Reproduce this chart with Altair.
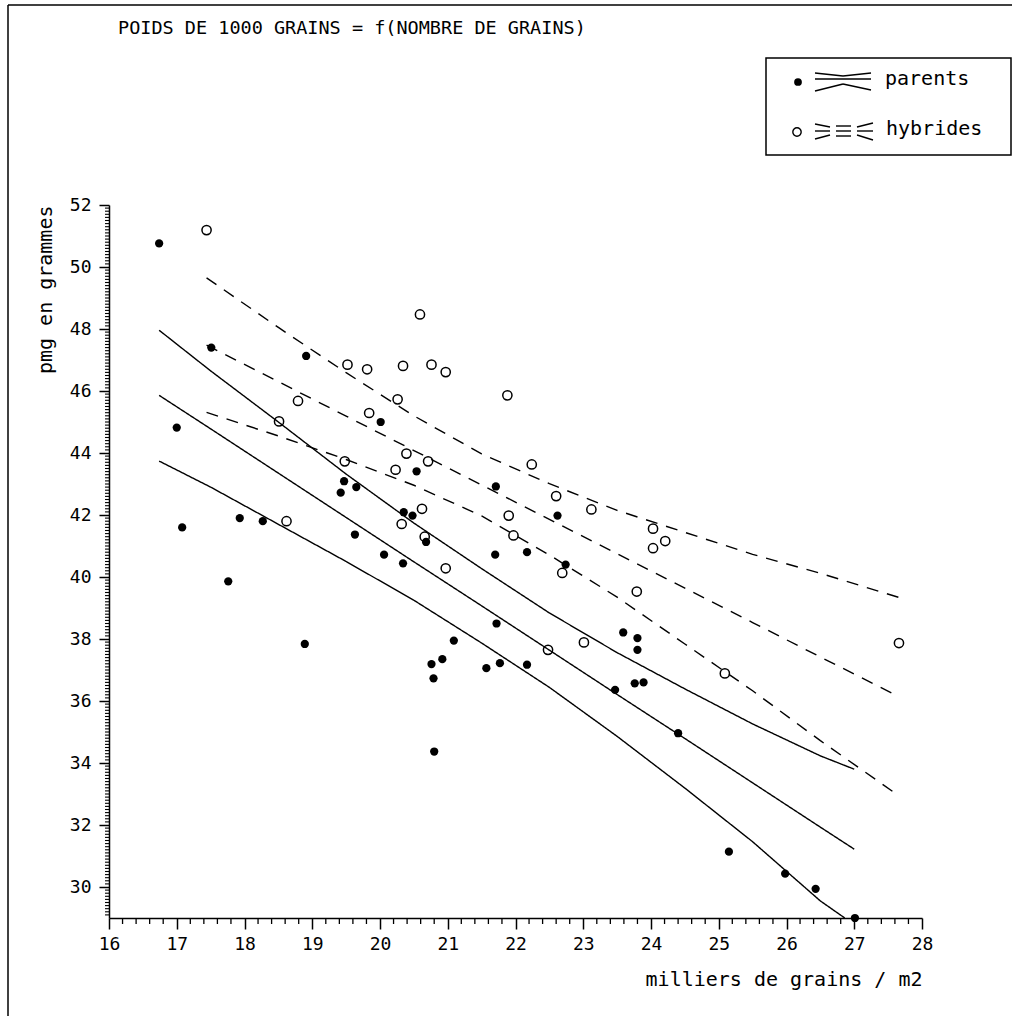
import altair as alt
import pandas as pd

# ---------------- texts ----------------
title_text = "POIDS DE 1000 GRAINS = f(NOMBRE DE GRAINS)"
x_title = "milliers de grains / m2"
y_title = "pmg en grammes"
legend_labels = ["parents", "hybrides"]

# ---------------- data ----------------
parents_x = [16.74, 17.00, 17.51, 18.91, 20.01, 20.54, 19.47, 19.65, 21.71, 19.42,
             20.35, 20.48, 22.62, 20.68, 19.63, 20.06, 20.34, 21.70, 22.17, 22.74,
             21.72, 23.59, 23.80, 23.80, 21.09, 18.89, 20.92, 20.76, 21.77, 21.57,
             22.17, 20.79, 17.76, 20.80, 23.47, 23.76, 23.89, 24.40, 25.15, 25.98,
             26.43, 27.01, 17.08, 17.93, 18.27]
parents_y = [50.76, 44.82, 47.40, 47.13, 45.00, 43.41, 43.09, 42.90, 42.92, 42.72,
             42.09, 41.98, 41.98, 41.13, 41.37, 40.72, 40.44, 40.72, 40.80, 40.40,
             38.50, 38.21, 38.03, 37.65, 37.95, 37.84, 37.35, 37.19, 37.22, 37.06,
             37.17, 36.73, 39.86, 34.37, 36.36, 36.57, 36.60, 34.96, 31.14, 30.43,
             29.94, 29.00, 41.60, 41.90, 41.80]

hybrid_x = [17.44, 20.59, 19.52, 19.81, 20.34, 20.76, 20.97, 18.79, 20.26, 19.84,
            18.51, 19.48, 20.39, 20.71, 20.23, 21.88, 22.24, 22.60, 23.12, 20.62,
            20.32, 21.90, 20.66, 21.97, 22.69, 20.97, 23.79, 23.01, 22.48, 24.03,
            24.21, 24.03, 27.66, 25.09, 18.62]
hybrid_y = [51.19, 48.47, 46.85, 46.70, 46.81, 46.85, 46.61, 45.68, 45.73, 45.29,
            45.02, 43.73, 43.98, 43.73, 43.46, 45.86, 43.63, 42.61, 42.18, 42.20,
            41.71, 41.98, 41.30, 41.34, 40.13, 40.28, 39.53, 37.89, 37.65, 41.56,
            41.16, 40.93, 37.87, 36.89, 41.80]

# regression line and confidence band, parents (solid)
par_x = [16.74, 17.5, 18.5, 19.5, 20.5, 21.5, 22.5, 23.5, 24.5, 25.5, 26.5, 27.0]
par_upper = [47.96, 46.65, 45.00, 43.32, 41.74, 40.27, 38.84, 37.56, 36.39, 35.26, 34.23, 33.80]
par_fit = [45.86, 44.78, 43.35, 41.92, 40.49, 39.07, 37.64, 36.21, 34.79, 33.36, 31.93, 31.22]
par_low_x = [16.74, 17.5, 18.5, 19.5, 20.5, 21.5, 22.5, 23.5, 24.5, 25.5, 26.5, 26.86]
par_lower = [43.74, 42.90, 41.70, 40.50, 39.25, 37.87, 36.44, 34.86, 33.19, 31.46, 29.55, 29.00]

# regression line and confidence band, hybrids (dashed)
hyb_x = [17.44, 18.5, 19.5, 20.5, 21.5, 22.5, 23.5, 24.5, 25.5, 26.5, 27.66]
hyb_upper = [49.65, 48.05, 46.59, 45.20, 43.97, 43.01, 42.15, 41.44, 40.73, 40.12, 39.34]
hyb_fit = [47.48, 46.30, 45.19, 44.08, 42.97, 41.86, 40.75, 39.64, 38.53, 37.42, 36.14]
hyb_lower = [45.31, 44.55, 43.79, 42.96, 41.97, 40.71, 39.35, 37.84, 36.33, 34.72, 32.94]

x_major = list(range(16, 29))
y_major = list(range(30, 53, 2))
x_minor = [round(16 + 0.2 * i, 1) for i in range(61) if i % 5 != 0]
y_minor = [round(29 + 0.1 * i, 1) for i in range(1, 231)
           if abs(round(29 + 0.1 * i, 1) / 2 - round(round(29 + 0.1 * i, 1) / 2)) > 1e-6]

# ---------------- tables ----------------
rows = []
for name, xs_, ys_, grp in [
    ("p_up", par_x, par_upper, "parents"),
    ("p_fit", par_x, par_fit, "parents"),
    ("p_low", par_low_x, par_lower, "parents"),
    ("h_up", hyb_x, hyb_upper, "hybrides"),
    ("h_fit", hyb_x, hyb_fit, "hybrides"),
    ("h_low", hyb_x, hyb_lower, "hybrides"),
]:
    for i, (a, b) in enumerate(zip(xs_, ys_)):
        rows.append({"x": a, "y": b, "series": name, "grp": grp, "o": i})
lines_df = pd.DataFrame(rows)
par_df = pd.DataFrame({"x": parents_x, "y": parents_y})
hyb_df = pd.DataFrame({"x": hybrid_x, "y": hybrid_y})

FONT = "DejaVu Sans Mono"

x_axis = alt.Axis(
    values=x_major, tickSize=11, format="d",
    labelFlush=False, labelOverlap=False,
    labelFont=FONT, labelFontSize=18, labelColor="black", labelPadding=6,
    domainColor="black", domainWidth=1.5, tickColor="black", tickWidth=1.5,
    grid=False, title=x_title, titleAnchor="end", titleFont=FONT,
    titleFontSize=20, titleFontWeight="normal", titleColor="black", titlePadding=16,
)
y_axis = alt.Axis(
    values=y_major, tickSize=10, format="d",
    labelOverlap=False,
    labelFont=FONT, labelFontSize=18, labelColor="black", labelPadding=8,
    domainColor="black", domainWidth=1.5, tickColor="black", tickWidth=1.5,
    grid=False, title=y_title, titleAnchor="end", titleFont=FONT,
    titleFontSize=20, titleFontWeight="normal", titleColor="black", titlePadding=14,
)

xs = alt.Scale(domain=[16, 28], nice=False, zero=False)
ys = alt.Scale(domain=[29, 52], nice=False, zero=False)

lines = alt.Chart(lines_df).mark_line(color="black", strokeWidth=1.4).encode(
    x=alt.X("x:Q", scale=xs, axis=x_axis),
    y=alt.Y("y:Q", scale=ys, axis=y_axis),
    detail="series:N",
    order="o:Q",
    strokeDash=alt.StrokeDash("grp:N", scale=alt.Scale(domain=["parents", "hybrides"],
                                                       range=[[1, 0], [12, 9]]), legend=None),
)
par_pts = alt.Chart(par_df).mark_circle(size=68, color="black", opacity=1).encode(
    x=alt.X("x:Q", scale=xs), y=alt.Y("y:Q", scale=ys))
hyb_pts = alt.Chart(hyb_df).mark_point(shape="circle", filled=False, size=85, color="black",
                                       strokeWidth=1.5, opacity=1).encode(
    x=alt.X("x:Q", scale=xs), y=alt.Y("y:Q", scale=ys))

# minor ticks, placed through the scales
xminor = alt.Chart(pd.DataFrame({"v": x_minor})).mark_rule(color="black", strokeWidth=1.3).encode(
    x=alt.X("v:Q", scale=xs), y=alt.value(713), y2=alt.value(719))
yminor = alt.Chart(pd.DataFrame({"v": y_minor})).mark_rule(color="black", strokeWidth=1.1).encode(
    y=alt.Y("v:Q", scale=ys), x=alt.value(0), x2=alt.value(-4))

one = pd.DataFrame({"k": [0]})

def txt(t, x, y, size, font=FONT, align="left", baseline="alphabetic"):
    return alt.Chart(pd.DataFrame({"t": [t]})).mark_text(
        align=align, baseline=baseline, font=font, fontSize=size, color="black"
    ).encode(x=alt.value(x), y=alt.value(y), text="t:N")

def seg(x1, y1, x2, y2, w=1.4):
    return alt.Chart(one).mark_rule(color="black", strokeWidth=w).encode(
        x=alt.value(x1), y=alt.value(y1), x2=alt.value(x2), y2=alt.value(y2))

OX, OY = 109, 205  # view origin within the page

decor = []
decor.append(txt(title_text, 118 - OX, 34 - OY, 18.5))
# page frame
decor.append(seg(8 - OX, 5 - OY, 8 - OX, 1016 - OY, 1.5))
decor.append(seg(8 - OX, 5 - OY, 1012 - OX, 5 - OY, 1.5))
# legend box
decor.append(alt.Chart(one).mark_rect(filled=False, stroke="black", strokeWidth=1.5).encode(
    x=alt.value(766 - OX), x2=alt.value(1011 - OX), y=alt.value(58 - OY), y2=alt.value(155 - OY)))
decor.append(alt.Chart(one).mark_circle(size=60, color="black", opacity=1).encode(
    x=alt.value(798 - OX), y=alt.value(82 - OY)))
decor.append(alt.Chart(one).mark_point(shape="circle", filled=False, size=70, color="black",
                                       strokeWidth=1.4, opacity=1).encode(
    x=alt.value(797 - OX), y=alt.value(132 - OY)))
# legend glyph: solid band
for (a, b, c, d) in [(815, 73, 843, 76), (843, 76, 871, 73), (815, 79, 871, 79),
                     (815, 91, 843, 84), (843, 84, 871, 90)]:
    decor.append(seg(a - OX, b - OY, c - OX, d - OY, 1.4))
# legend glyph: dashed band
for (a, b, c, d) in [(815, 124, 830, 127), (815, 131, 830, 131), (815, 139, 830, 135),
                     (836, 126, 851, 126), (836, 131, 851, 131), (836, 136, 851, 136),
                     (857, 127, 873, 123), (857, 131, 873, 131), (857, 135, 873, 140)]:
    decor.append(seg(a - OX, b - OY, c - OX, d - OY, 1.4))
decor.append(txt(legend_labels[0], 885 - OX, 79 - OY, 20, baseline="middle"))
decor.append(txt(legend_labels[1], 886 - OX, 129 - OY, 20, baseline="middle"))

chart = alt.layer(lines, xminor, yminor, par_pts, hyb_pts, *decor).properties(
    width=813, height=713,
    padding={"left": OX, "top": OY, "right": 1012 - OX - 813, "bottom": 1016 - OY - 713},
    autosize=alt.AutoSizeParams(type="none"),
    background="white",
).configure_view(strokeWidth=0)

chart.save("out.html", embed_options={"renderer": "svg", "actions": False})
